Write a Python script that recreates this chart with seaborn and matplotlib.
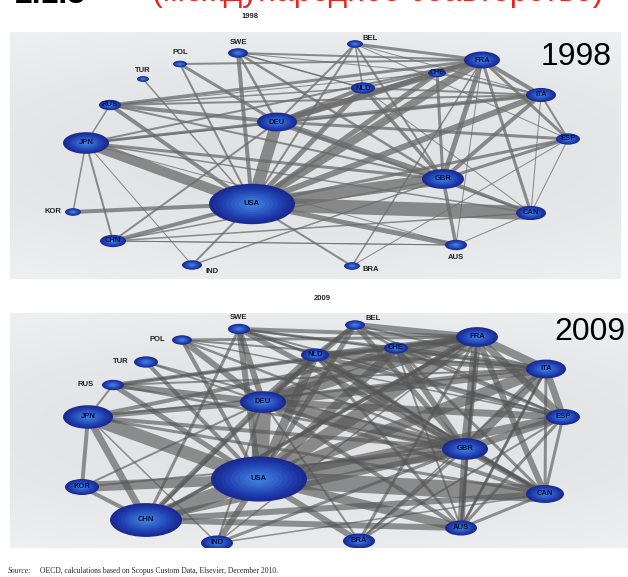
import numpy as np
import pandas as pd
import seaborn as sns
import matplotlib.pyplot as plt
from matplotlib.patches import Ellipse
from matplotlib.colors import to_rgb

## countries and their layout in each panel (pixel coordinates of the original figure)
countries = ['SWE', 'POL', 'TUR', 'RUS', 'JPN', 'DEU', 'USA', 'KOR', 'CHN', 'IND',
             'BEL', 'NLD', 'CHE', 'FRA', 'ITA', 'ESP', 'GBR', 'CAN', 'AUS', 'BRA']

x_1998 = [238, 180, 143, 110, 86, 277, 252, 73, 113, 192, 355, 363, 437, 482, 541, 568, 443, 531, 456, 352]
y_1998 = [53, 64, 79, 105, 143, 122, 204, 212, 241, 265, 44, 88, 73, 60, 95, 139, 179, 213, 245, 266]
vol_1998 = [20, 14, 12, 22, 46, 40, 86, 16, 26, 20, 16, 24, 18, 36, 30, 24, 42, 30, 22, 16]

x_2009 = [239, 182, 146, 113, 88, 263, 259, 82, 146, 217, 355, 315, 396, 477, 546, 563, 465, 545, 461, 359]
y_2009 = [329, 340, 362, 385, 417, 402, 479, 487, 520, 543, 325, 355, 348, 337, 369, 417, 449, 494, 528, 541]
vol_2009 = [22, 20, 24, 22, 50, 46, 96, 34, 72, 32, 20, 28, 24, 42, 40, 34, 46, 38, 32, 32]

## co-authorship links (weight ~ link thickness)
src_1998 = ['USA', 'USA', 'USA', 'USA', 'USA', 'USA', 'USA', 'USA', 'USA', 'USA', 'USA', 'USA', 'USA', 'USA',
            'USA', 'USA', 'USA', 'USA', 'USA',
            'DEU', 'DEU', 'DEU', 'DEU', 'DEU', 'DEU', 'DEU', 'DEU', 'DEU', 'DEU', 'DEU', 'DEU', 'DEU',
            'GBR', 'GBR', 'GBR', 'GBR', 'GBR', 'GBR', 'GBR', 'GBR', 'GBR', 'GBR', 'GBR', 'GBR', 'GBR',
            'FRA', 'FRA', 'FRA', 'FRA', 'FRA', 'FRA', 'FRA', 'FRA', 'FRA', 'FRA', 'FRA', 'FRA',
            'ITA', 'ITA', 'ITA', 'ITA', 'ITA', 'ITA',
            'JPN', 'JPN', 'JPN', 'JPN', 'JPN', 'JPN',
            'CAN', 'CAN', 'CAN', 'CAN', 'CHN', 'NLD', 'NLD', 'SWE', 'SWE', 'RUS', 'RUS', 'BEL', 'BEL', 'BRA', 'AUS']
dst_1998 = ['CAN', 'GBR', 'DEU', 'JPN', 'FRA', 'ITA', 'CHN', 'KOR', 'RUS', 'AUS', 'NLD', 'CHE', 'ESP', 'SWE',
            'IND', 'BRA', 'POL', 'TUR', 'BEL',
            'FRA', 'GBR', 'RUS', 'CHE', 'ITA', 'NLD', 'JPN', 'POL', 'SWE', 'ESP', 'CAN', 'CHN', 'BEL',
            'FRA', 'ITA', 'NLD', 'CAN', 'AUS', 'ESP', 'JPN', 'CHE', 'SWE', 'IND', 'CHN', 'BEL', 'RUS',
            'ITA', 'ESP', 'CHE', 'BEL', 'RUS', 'JPN', 'CAN', 'NLD', 'SWE', 'POL', 'BRA', 'AUS',
            'ESP', 'CHE', 'NLD', 'CAN', 'RUS', 'JPN',
            'CHN', 'KOR', 'RUS', 'CAN', 'IND', 'AUS',
            'AUS', 'CHN', 'ESP', 'NLD', 'AUS', 'BEL', 'SWE', 'NLD', 'CHE', 'NLD', 'CHE', 'ESP', 'ITA', 'ESP', 'CHN']
w_1998 = [14, 12, 12, 10, 8, 6, 4, 4, 4, 5, 5, 5, 3, 4,
          2, 2, 2, 1.5, 2,
          6, 6, 4, 5, 4, 4, 3, 3, 2.5, 3, 2, 2, 2,
          5, 4, 3.5, 3, 3.5, 3, 3, 3, 2.5, 1.5, 1.5, 2, 2,
          4, 3, 3, 3, 3, 2, 3, 2, 2, 2, 1.5, 1,
          2, 2, 2, 1, 2, 1.5,
          2, 1.5, 1.5, 1.5, 1, 1,
          1, 1.5, 1, 1, 1, 1.5, 1.5, 1, 1, 1.5, 1, 1, 1, 1, 1]

src_2009 = ['USA', 'USA', 'USA', 'USA', 'USA', 'USA', 'USA', 'USA', 'USA', 'USA', 'USA', 'USA', 'USA', 'USA',
            'USA', 'USA', 'USA', 'USA', 'USA',
            'DEU', 'DEU', 'DEU', 'DEU', 'DEU', 'DEU', 'DEU', 'DEU', 'DEU', 'DEU', 'DEU', 'DEU', 'DEU', 'DEU',
            'GBR', 'GBR', 'GBR', 'GBR', 'GBR', 'GBR', 'GBR', 'GBR', 'GBR', 'GBR', 'GBR', 'GBR', 'GBR',
            'FRA', 'FRA', 'FRA', 'FRA', 'FRA', 'FRA', 'FRA', 'FRA', 'FRA', 'FRA', 'FRA', 'FRA', 'FRA',
            'ITA', 'ITA', 'ITA', 'ITA', 'ITA', 'ESP', 'ESP', 'ESP',
            'CHN', 'CHN', 'CHN', 'CHN', 'CHN', 'JPN', 'JPN', 'JPN', 'CAN', 'CAN', 'CAN',
            'NLD', 'NLD', 'NLD', 'AUS', 'AUS', 'IND', 'IND', 'BRA', 'TUR', 'POL', 'RUS', 'SWE', 'BEL',
            'SWE', 'SWE', 'POL', 'POL', 'TUR', 'RUS', 'RUS', 'KOR', 'KOR', 'IND', 'BRA', 'BRA',
            'AUS', 'CHE', 'BEL', 'BEL', 'CHN', 'CHN', 'JPN', 'AUS', 'CAN', 'IND', 'SWE', 'NLD']
dst_2009 = ['CHN', 'GBR', 'DEU', 'CAN', 'JPN', 'FRA', 'ITA', 'KOR', 'ESP', 'NLD', 'CHE', 'AUS', 'IND', 'BRA',
            'SWE', 'RUS', 'POL', 'TUR', 'BEL',
            'GBR', 'FRA', 'CHE', 'ITA', 'NLD', 'ESP', 'RUS', 'POL', 'SWE', 'BEL', 'JPN', 'CHN', 'CAN', 'AUS',
            'FRA', 'ITA', 'NLD', 'ESP', 'CHE', 'AUS', 'CAN', 'CHN', 'SWE', 'BEL', 'JPN', 'IND', 'BRA',
            'ITA', 'ESP', 'CHE', 'BEL', 'CAN', 'NLD', 'RUS', 'JPN', 'SWE', 'BRA', 'AUS', 'POL', 'CHN',
            'ESP', 'CHE', 'NLD', 'CAN', 'AUS', 'NLD', 'CAN', 'AUS',
            'JPN', 'KOR', 'CAN', 'AUS', 'SWE', 'KOR', 'RUS', 'CAN', 'AUS', 'NLD', 'CHE',
            'BEL', 'CHE', 'SWE', 'NLD', 'CHE', 'DEU', 'JPN', 'DEU', 'DEU', 'GBR', 'GBR', 'CHE', 'CHE',
            'NLD', 'ITA', 'ITA', 'ESP', 'GBR', 'ITA', 'CHE', 'DEU', 'GBR', 'FRA', 'ESP', 'ITA',
            'FRA', 'ESP', 'ITA', 'ESP', 'FRA', 'NLD', 'ITA', 'ITA', 'GBR', 'CAN', 'ESP', 'CAN']
w_2009 = [15, 15, 17, 17, 13, 13, 11, 10, 8, 9, 9, 9, 6, 6,
          6, 5, 4, 4, 5,
          11, 11, 10, 9, 9, 7, 6, 6, 6, 5, 5, 5, 4, 4,
          9, 9, 8, 7, 6, 7, 6, 6, 5, 5, 4, 3, 3,
          8, 7, 6, 6, 6, 5, 4, 4, 4, 3, 3, 3, 4,
          7, 5, 5, 3, 3, 4, 3, 3,
          7, 4, 6, 6, 3, 4, 2, 3, 3, 3, 3,
          4, 4, 3, 3, 2, 2, 1.5, 2, 2, 2.5, 2.5, 2.5, 2.5,
          2, 2, 2, 1.5, 2, 2, 2, 2, 2, 1.5, 2, 1.5,
          2, 3, 2, 2, 3, 3, 2, 2, 3, 1.5, 2, 2]

## labels drawn outside the node
outside_1998 = {'SWE': (0, -10), 'POL': (0, -11), 'TUR': (0, -9), 'KOR': (-20, 0), 'IND': (20, 7),
                'BEL': (15, -6), 'AUS': (0, 13), 'BRA': (19, 4)}
outside_2009 = {'SWE': (0, -11), 'POL': (-25, 0), 'TUR': (-25, 0), 'RUS': (-27, 0), 'BEL': (18, -6)}

sns.set_theme(style='white')
plt.rcParams['font.family'] = ['Liberation Sans', 'DejaVu Sans']

fig = plt.figure(figsize=(6.28, 5.77), dpi=100)
W, H = 628, 577


def panel(box, x, y, vol, src, dst, w, outside, edge_color, edge_alpha):
    x0, x1, y0, y1 = box
    ax = fig.add_axes([x0 / W, 1 - y1 / H, (x1 - x0) / W, (y1 - y0) / H])
    # light grey background, a bit lighter towards the edges
    gx, gy = np.meshgrid(np.linspace(-1, 1, 200), np.linspace(-1, 1, 100))
    r = np.clip(np.sqrt(gx ** 2 * 0.5 + gy ** 2), 0, 1.3) / 1.3
    inner = np.array(to_rgb('#e0e2e4'))
    outer = np.array(to_rgb('#f1f2f3'))
    bg = inner[None, None, :] * (1 - r[..., None] ** 2) + outer[None, None, :] * r[..., None] ** 2
    ax.imshow(bg, extent=(x0, x1, y1, y0), aspect='auto', zorder=0, interpolation='bilinear')

    pos = {c: (xx, yy) for c, xx, yy in zip(countries, x, y)}
    rows = []
    for i, (a, b, ww) in enumerate(zip(src, dst, w)):
        rows.append((i, pos[a][0], pos[a][1], ww))
        rows.append((i, pos[b][0], pos[b][1], ww))
    edges = pd.DataFrame(rows, columns=['edge', 'x', 'y', 'w'])
    sns.lineplot(data=edges, x='x', y='y', units='edge', estimator=None, sort=False,
                 size='w', sizes=(0, 14.4), size_norm=(0, 20), color=edge_color,
                 alpha=edge_alpha, legend=False, ax=ax, zorder=1)

    c_out = np.array(to_rgb('#1a2a90'))
    c_mid = np.array(to_rgb('#1f3cae'))
    c_in = np.array(to_rgb('#3b7ad8'))
    for c, xx, yy, v in zip(countries, x, y, vol):
        for k, s in enumerate(np.linspace(1, 0.2, 9)):
            t = k / 8
            col = c_out * (1 - t / 0.3) + c_mid * (t / 0.3) if t < 0.3 else \
                c_mid * (1 - (t - 0.3) / 0.7) + c_in * ((t - 0.3) / 0.7)
            ax.add_patch(Ellipse((xx, yy), v * s, v * 0.47 * s, facecolor=col,
                                 edgecolor='none', zorder=3 + k * 0.01))
        if c in outside:
            dx, dy = outside[c]
            ax.text(xx + dx, yy + dy, c, ha='center', va='center', fontsize=5.5, fontweight='bold',
                    color='#222222', zorder=5)
        else:
            ax.text(xx, yy, c, ha='center', va='center', fontsize=5.5 if v > 20 else 5,
                    fontweight='bold', color='#0a1040', zorder=5)

    ax.set_xlim(x0, x1)
    ax.set_ylim(y1, y0)
    ax.set_xlabel('')
    ax.set_ylabel('')
    ax.set_xticks([])
    ax.set_yticks([])
    for s in ax.spines.values():
        s.set_visible(False)
    return ax


panel((10, 621, 32, 279), x_1998, y_1998, vol_1998, src_1998, dst_1998, w_1998, outside_1998, '#6a6a6a', 0.75)
panel((10, 628, 313, 548), x_2009, y_2009, vol_2009, src_2009, dst_2009, w_2009, outside_2009, '#555555', 0.62)

## texts
fig.text(250 / W, 1 - 17 / H, '1998', ha='center', va='center', fontsize=5.5, fontweight='bold')
fig.text(322 / W, 1 - 298 / H, '2009', ha='center', va='center', fontsize=5.5, fontweight='bold')
fig.text(576 / W, 1 - 57 / H, '1998', ha='center', va='center', fontsize=23, color='black', zorder=10)
fig.text(590 / W, 1 - 332 / H, '2009', ha='center', va='center', fontsize=23, color='black', zorder=10)
fig.text(378 / W, 1 - 0.5 / H, '(международное соавторство)', ha='center', va='baseline',
         fontsize=23, color='#e8231c')
fig.text(15 / W, 1 - 3 / H, '2.1.3', ha='left', va='baseline', fontsize=23, fontweight='bold', color='black')
fig.text(8 / W, 1 - 573 / H, 'Source:', ha='left', va='baseline', fontsize=5.5, style='italic',
         family=['Liberation Serif', 'DejaVu Serif'])
fig.text(40 / W, 1 - 573 / H, 'OECD, calculations based on Scopus Custom Data, Elsevier, December 2010.',
         ha='left', va='baseline', fontsize=5.5, family=['Liberation Serif', 'DejaVu Serif'])

plt.savefig('out.png', dpi=100)
plt.close()
